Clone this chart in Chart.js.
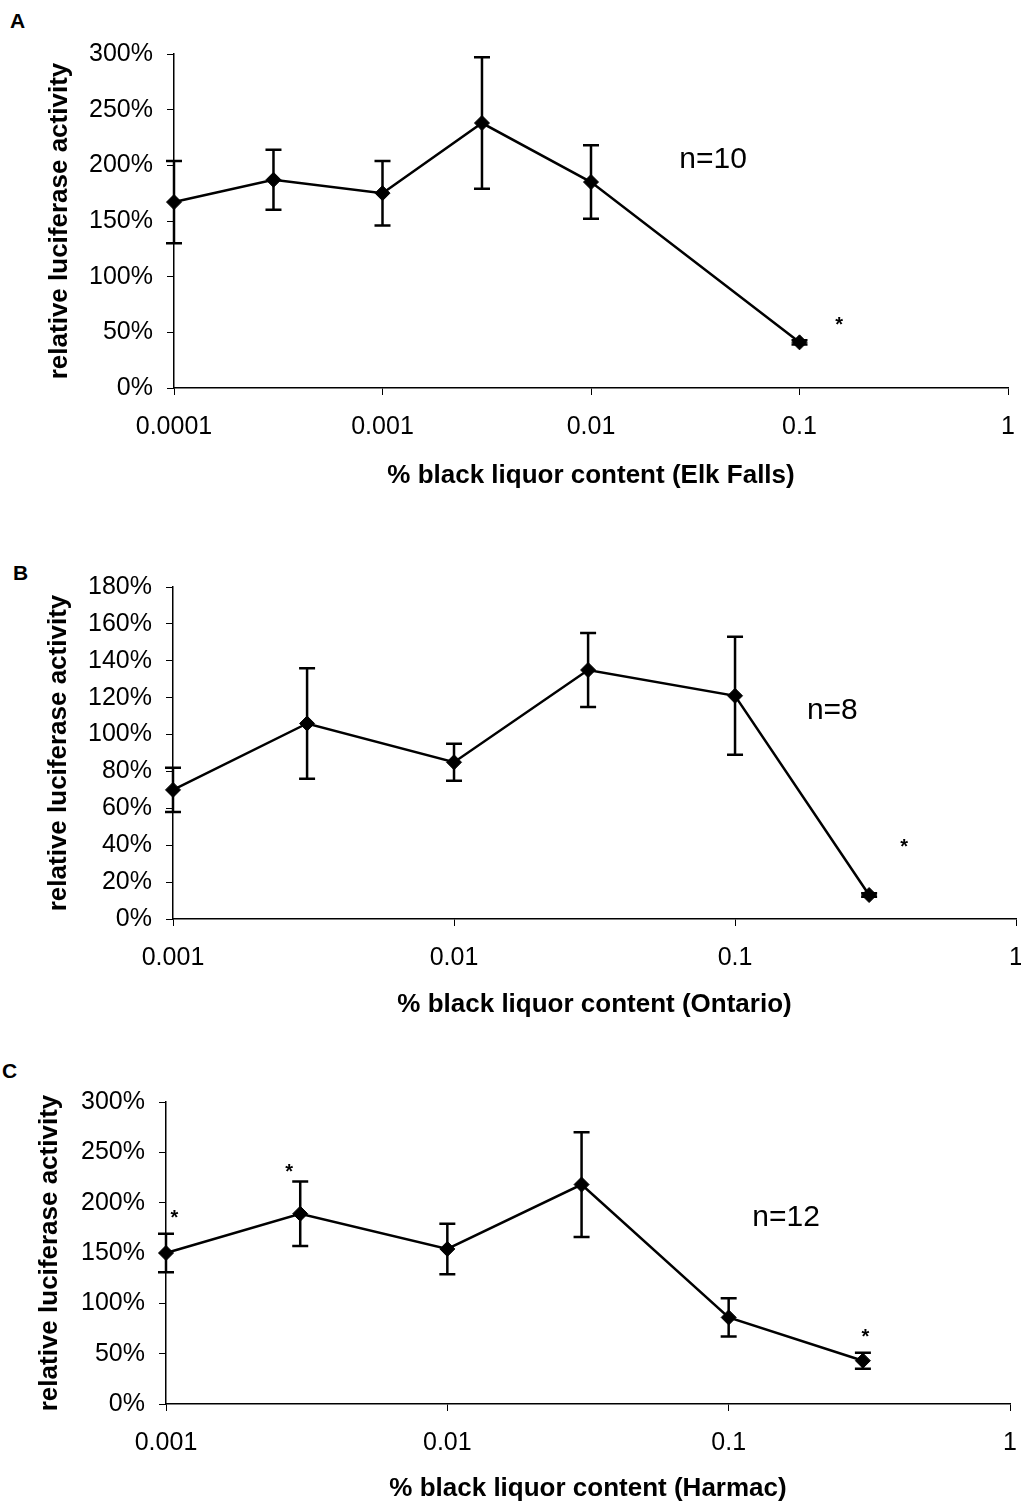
<!DOCTYPE html>
<html>
<head>
<meta charset="utf-8">
<script src="https://cdn.jsdelivr.net/npm/chart.js@4.4.1/dist/chart.umd.min.js"></script>
<style>
    html, body { margin: 0; padding: 0; background: #fff; width: 1021px; height: 1505px; overflow: hidden; }
    canvas { position: absolute; left: 0; }
    .tag { position: absolute; font: bold 21px "Liberation Sans", Arial, sans-serif; line-height: 21px; color: #000; }
</style>
</head>
<body>
<div class="tag" style="left:10px; top:10px">A</div>
<div class="tag" style="left:13px; top:562px">B</div>
<div class="tag" style="left:2px; top:1060px">C</div>
<canvas id="chartA" width="1040" height="500" style="top:0px"></canvas>
<canvas id="chartB" width="1040" height="520" style="top:520px"></canvas>
<canvas id="chartC" width="1040" height="465" style="top:1040px"></canvas>
<script>
// panel A - Elk Falls
const concA = [0.0001, 0.0003, 0.001, 0.003, 0.01, 0.1];
const meanA = [167, 187, 175, 238, 185, 41];
const errA = [37, 27, 29, 59, 33, 2];
const xTicksA = [0.0001, 0.001, 0.01, 0.1, 1];
const xLabelsA = ['0.0001', '0.001', '0.01', '0.1', '1'];

// panel B - Ontario
const concB = [0.001, 0.003, 0.01, 0.03, 0.1, 0.3];
const meanB = [70, 106, 85, 135, 121, 13];
const errB = [12, 30, 10, 20, 32, 1];

// panel C - Harmac
const concC = [0.001, 0.003, 0.01, 0.03, 0.1, 0.3];
const meanC = [150, 189, 154, 218, 86, 43];
const errC = [19, 32, 25, 52, 19, 8];

const xTicksBC = [0.001, 0.01, 0.1, 1];
const xLabelsBC = ['0.001', '0.01', '0.1', '1'];

// annotations: [x, y, text]
const notesA = [[0.155, 56, '*'], [0.0385, 205, 'n=10']];
const notesB = [[0.4, 39, '*'], [0.222, 113, 'n=8']];
const notesC = [[0.00107, 184, '*'], [0.00274, 230, '*'], [0.306, 66, '*'], [0.16, 185, 'n=12']];

const FONT = '"Liberation Sans", Arial, sans-serif';
Chart.defaults.font.family = FONT;
Chart.defaults.color = '#000';

const CANVAS_W = 1040;

const errorBars = {
    id: 'errorBars',
    afterDatasetsDraw(chart, args, opts) {
        const ctx = chart.ctx;
        const x = chart.scales.x, y = chart.scales.y;
        const ds = chart.data.datasets[0];
        ctx.save();
        ctx.strokeStyle = '#000';
        ctx.lineWidth = 2.5;
        ds.data.forEach((d, i) => {
            const e = ds.errors[i];
            const px = x.getPixelForValue(d.x);
            const top = y.getPixelForValue(d.y + e);
            const bot = y.getPixelForValue(d.y - e);
            ctx.beginPath();
            ctx.moveTo(px, top); ctx.lineTo(px, bot);
            ctx.moveTo(px - 8, top); ctx.lineTo(px + 8, top);
            ctx.moveTo(px - 8, bot); ctx.lineTo(px + 8, bot);
            ctx.stroke();
        });
        ctx.fillStyle = '#000';
        ctx.textAlign = 'center';
        ctx.textBaseline = 'middle';
        (opts.notes || []).forEach(n => {
            ctx.font = n[2] === '*' ? 'bold 20px ' + FONT : '30px ' + FONT;
            ctx.fillText(n[2], x.getPixelForValue(n[0]), y.getPixelForValue(n[1]));
        });
        ctx.restore();
    }
};

function buildPanel(id, p) {
    const last = p.xTicks.length - 1;
    new Chart(document.getElementById(id), {
        type: 'line',
        data: {
            datasets: [{
                data: p.conc.map((c, i) => ({ x: c, y: p.mean[i] })),
                errors: p.err,
                borderColor: '#000',
                borderWidth: 2.5,
                pointStyle: 'rectRot',
                pointRadius: 7.5,
                pointBackgroundColor: '#000',
                pointBorderColor: '#000',
                pointBorderWidth: 1,
                tension: 0,
                clip: false
            }]
        },
        options: {
            responsive: false,
            animation: false,
            events: [],
            layout: { padding: { top: p.top, right: CANVAS_W - p.right, bottom: 0, left: 0 } },
            plugins: {
                legend: { display: false },
                tooltip: { enabled: false },
                errorBars: { notes: p.notes }
            },
            scales: {
                x: {
                    type: 'logarithmic',
                    min: p.xTicks[0],
                    max: p.xTicks[last],
                    afterBuildTicks: s => { s.ticks = p.xTicks.map(v => ({ value: v })); },
                    afterFit: s => { s.height = p.height - p.bottom; },
                    ticks: {
                        callback: (v, i) => p.xLabels[i],
                        autoSkip: false,
                        maxRotation: 0,
                        color: '#000',
                        font: { size: 25 },
                        padding: 17
                    },
                    grid: { drawOnChartArea: false, tickLength: 7, color: '#000', lineWidth: 1 },
                    border: { color: '#000', width: 1.5 },
                    title: {
                        display: true,
                        text: p.xTitle,
                        color: '#000',
                        font: { size: 26, weight: 'bold' },
                        padding: { top: 0, bottom: p.xTitlePad }
                    }
                },
                y: {
                    min: 0,
                    max: p.yMax,
                    afterFit: s => { s.width = p.left; },
                    ticks: {
                        stepSize: p.yStep,
                        callback: v => v + '%',
                        color: '#000',
                        font: { size: 25 },
                        padding: 14
                    },
                    grid: { drawOnChartArea: false, tickLength: 7, color: '#000', lineWidth: 1 },
                    border: { color: '#000', width: 1.5 },
                    title: {
                        display: true,
                        text: 'relative luciferase activity',
                        color: '#000',
                        font: { size: 26, weight: 'bold' },
                        padding: { top: p.yTitlePad, bottom: 0 }
                    }
                }
            }
        },
        plugins: [errorBars]
    });
}

buildPanel('chartA', {
    conc: concA, mean: meanA, err: errA, notes: notesA,
    xTicks: xTicksA, xLabels: xLabelsA, yMax: 300, yStep: 50,
    xTitle: '% black liquor content (Elk Falls)',
    height: 500, top: 54, bottom: 388, left: 174, right: 1008,
    xTitlePad: 9, yTitlePad: 44
});

buildPanel('chartB', {
    conc: concB, mean: meanB, err: errB, notes: notesB,
    xTicks: xTicksBC, xLabels: xLabelsBC, yMax: 180, yStep: 20,
    xTitle: '% black liquor content (Ontario)',
    height: 520, top: 67, bottom: 399, left: 173, right: 1018,
    xTitlePad: 20, yTitlePad: 43
});

buildPanel('chartC', {
    conc: concC, mean: meanC, err: errC, notes: notesC,
    xTicks: xTicksBC, xLabels: xLabelsBC, yMax: 300, yStep: 50,
    xTitle: '% black liquor content (Harmac)',
    height: 465, top: 62, bottom: 364, left: 166, right: 1010,
    xTitlePad: 1, yTitlePad: 34
});
</script>
</body>
</html>
